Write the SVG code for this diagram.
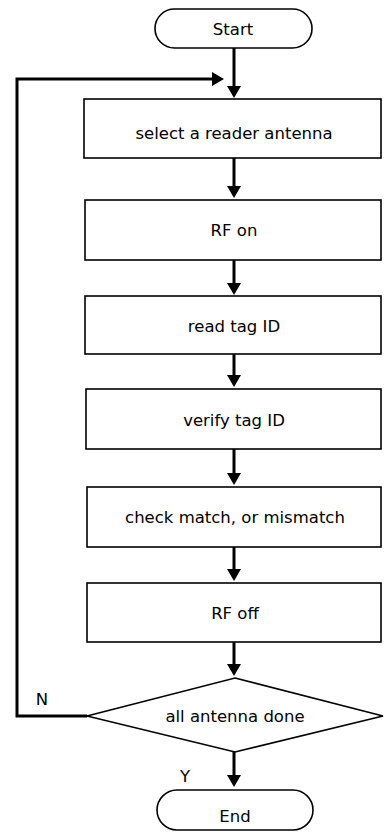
<svg xmlns="http://www.w3.org/2000/svg" width="385" height="835" viewBox="0 0 385 835">
<style>
.box{fill:#fff;stroke:#000;stroke-width:1.6}
.lbl{font-family:"DejaVu Sans","Liberation Sans",sans-serif;font-size:16.5px;fill:#000;text-anchor:middle}
.edge{fill:none;stroke:#000;stroke-width:3}
</style>
<defs>
<marker id="ah" viewBox="0 0 12 14" refX="1" refY="7" markerWidth="12" markerHeight="14" markerUnits="userSpaceOnUse" orient="auto">
<path d="M0,0 L12,7 L0,14 z" fill="#000"/>
</marker>
</defs>
<rect width="385" height="835" fill="#fff"/>
<g id="connectors">
<line class="edge" x1="234" y1="48" x2="234" y2="87" marker-end="url(#ah)"/>
<polyline class="edge" points="87,716 17,716 17,79 213,79" marker-end="url(#ah)"/>
<line class="edge" x1="234" y1="158" x2="234" y2="187" marker-end="url(#ah)"/>
<line class="edge" x1="234" y1="260" x2="234" y2="284" marker-end="url(#ah)"/>
<line class="edge" x1="234" y1="354" x2="234" y2="376" marker-end="url(#ah)"/>
<line class="edge" x1="234" y1="449" x2="234" y2="474" marker-end="url(#ah)"/>
<line class="edge" x1="234" y1="547" x2="234" y2="570" marker-end="url(#ah)"/>
<line class="edge" x1="234" y1="642" x2="234" y2="665" marker-end="url(#ah)"/>
<line class="edge" x1="234" y1="752" x2="234" y2="776" marker-end="url(#ah)"/>
<text class="lbl" x="42" y="705">N</text>
<text class="lbl" x="185" y="782">Y</text>
</g>
<g id="start">
<rect class="box" x="155" y="9" width="157" height="39" rx="19.5"/>
<text class="lbl" x="233" y="35">Start</text>
</g>
<g id="select">
<rect class="box" x="84" y="99" width="297" height="59"/>
<text class="lbl" x="234" y="139">select a reader antenna</text>
</g>
<g id="rfon">
<rect class="box" x="85" y="200" width="296" height="60"/>
<text class="lbl" x="234" y="236">RF on</text>
</g>
<g id="read">
<rect class="box" x="85" y="296" width="296" height="58"/>
<text class="lbl" x="234" y="332">read tag ID</text>
</g>
<g id="verify">
<rect class="box" x="86" y="389" width="295" height="60"/>
<text class="lbl" x="234" y="426">verify tag ID</text>
</g>
<g id="check">
<rect class="box" x="87" y="487" width="294" height="60"/>
<text class="lbl" x="235" y="523">check match, or mismatch</text>
</g>
<g id="rfoff">
<rect class="box" x="87" y="583" width="294" height="59"/>
<text class="lbl" x="235" y="619">RF off</text>
</g>
<g id="decision">
<polygon class="box" points="235,678 383,716 235,752 87,716"/>
<text class="lbl" x="235" y="722">all antenna done</text>
</g>
<g id="end">
<rect class="box" x="157" y="790" width="156" height="40" rx="20"/>
<text class="lbl" x="235" y="822">End</text>
</g>
</svg>
